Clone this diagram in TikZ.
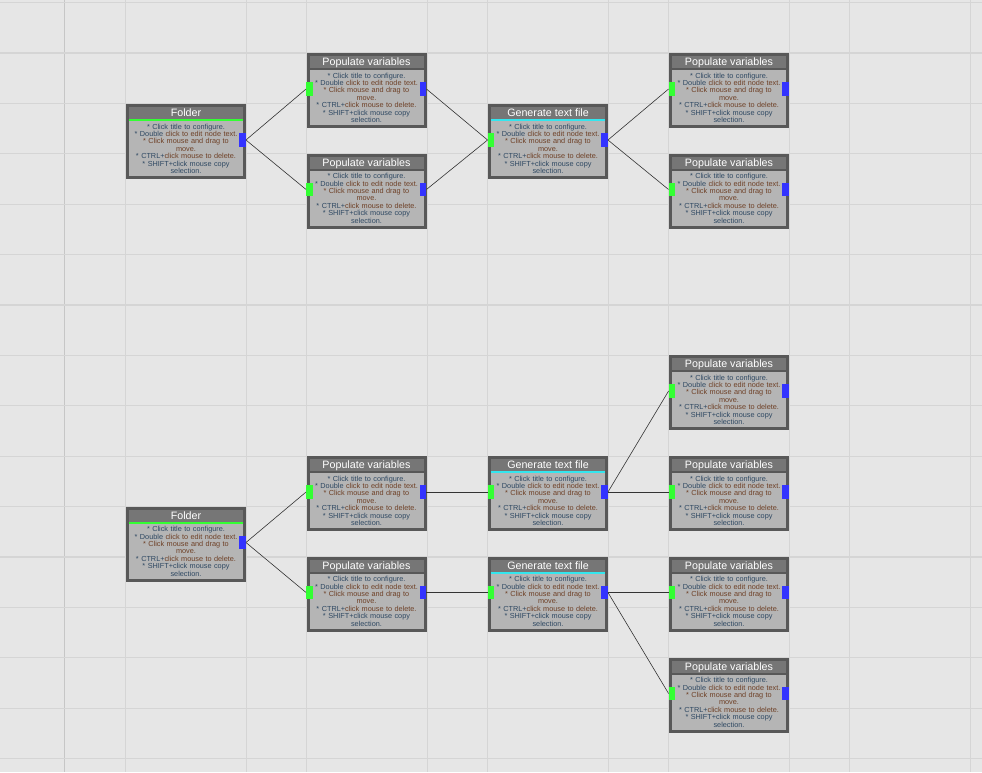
\documentclass[tikz,border=0pt]{standalone}
\usepackage{fontspec}
\setmainfont{Liberation Sans}
\usepackage{tikz}
\usepackage{xcolor}

\definecolor{canvas}{HTML}{E6E6E6}
\definecolor{gridline}{HTML}{D5D5D5}
\definecolor{frame}{HTML}{585858}
\definecolor{titlebg}{HTML}{767676}
\definecolor{bodybg}{HTML}{B5B5B5}
\definecolor{portin}{HTML}{33FF33}
\definecolor{portout}{HTML}{3333FF}
\definecolor{accfolder}{HTML}{33FF33}
\definecolor{accgen}{HTML}{33E6EE}
\definecolor{accpop}{HTML}{585858}
\definecolor{txtA}{HTML}{2E4862}
\definecolor{txtB}{HTML}{6E4026}
\definecolor{wirecol}{HTML}{333333}

% help text shown in every box
\newcommand{\nodetext}{%
  {\color{txtA}* Click title to configure.}\\
  {\color{txtA}* Double }{\color{txtB}click to edit node text.}\\
  {\color{txtB}* Click mouse and drag to}\\
  {\color{txtB}move.}\\
  {\color{txtA}* CTRL+}{\color{txtB}click mouse to delete.}\\
  {\color{txtA}* SHIFT+}{\color{txtA}click mouse copy}\\
  {\color{txtA}selection.}}

% box with title bar, accent line, help text and output port
\newcommand{\flowbox}[5]{%
  \node[boxframe] (#1) at ({#2+1.5},{#3+1.5}) {};
  \fill[titlebg] ({#2+3},{#3+3}) rectangle ({#2+117},{#3+15});
  \fill[#5] ({#2+3},{#3+15}) rectangle ({#2+117},{#3+17});
  \node[boxtitle] (#1-title) at ({#2+60},{#3+12.5}) {#4};
  \node[boxbody] (#1-body) at ({#2+60},{#3+44.8}) {\nodetext};
  \node[outport] (#1-out) at ([xshift=-2pt,yshift=1.5pt]#1.east) {};
}
% input port on the left side of a box
\newcommand{\flowin}[1]{%
  \node[inport] (#1-in) at ([xshift=1.5pt,yshift=1.5pt]#1.west) {};
}

\begin{document}
\begin{tikzpicture}[
        x=1pt, y=-1pt,
        boxframe/.style={draw=frame, fill=bodybg, line width=3pt, rectangle, anchor=north west,
            minimum width=117pt, minimum height=72pt, inner sep=0pt, outer sep=0pt},
        boxtitle/.style={anchor=base, inner sep=0pt, text=white, font=\fontsize{10.7}{12}\selectfont},
        boxbody/.style={inner sep=0pt, align=center, text width=116pt, font=\fontsize{7.3}{7.45}\selectfont},
        inport/.style={fill=portin, minimum width=6.5pt, minimum height=13.5pt, inner sep=0pt},
        outport/.style={fill=portout, minimum width=6.5pt, minimum height=13.5pt, inner sep=0pt},
        wire/.style={draw=wirecol, line width=0.6pt}
    ]
        % Canvas and grid
        \fill[canvas] (0,0) rectangle (982,772);
        \useasboundingbox (0,0) rectangle (982,772);
        \foreach \gx in {125.5,246,306.5,427,487.5,608,668.5,789,849.5,970}
            \draw[gridline, line width=1pt] (\gx,0) -- (\gx,772);
        \draw[gridline!93!black, line width=1.4pt] (64.5,0) -- (64.5,772);
        \foreach \gy in {2.5,52.9,103.3,153.7,204.1,254.5,304.9,355.3,405.7,456.1,506.5,556.9,607.3,657.7,708.1,758.5}
            \draw[gridline, line width=1.2pt] (0,\gy) -- (982,\gy);

        % Upper flow
        \flowbox{fold1}{126}{104}{Folder}{accfolder}
        \flowbox{pop1}{306.5}{53}{Populate variables}{accpop}  \flowin{pop1}
        \flowbox{pop2}{306.5}{153.5}{Populate variables}{accpop} \flowin{pop2}
        \flowbox{gen1}{488}{104}{Generate text file}{accgen}  \flowin{gen1}
        \flowbox{pop3}{669}{53}{Populate variables}{accpop}   \flowin{pop3}
        \flowbox{pop4}{669}{153.5}{Populate variables}{accpop} \flowin{pop4}

        % Lower flow
        \flowbox{fold2}{126}{506.5}{Folder}{accfolder}
        \flowbox{pop5}{306.5}{456}{Populate variables}{accpop}  \flowin{pop5}
        \flowbox{pop6}{306.5}{556.5}{Populate variables}{accpop} \flowin{pop6}
        \flowbox{gen2}{488}{456}{Generate text file}{accgen}    \flowin{gen2}
        \flowbox{gen3}{488}{556.5}{Generate text file}{accgen}  \flowin{gen3}
        \flowbox{pop7}{669}{355}{Populate variables}{accpop}    \flowin{pop7}
        \flowbox{pop8}{669}{456}{Populate variables}{accpop}    \flowin{pop8}
        \flowbox{pop9}{669}{556.5}{Populate variables}{accpop}  \flowin{pop9}
        \flowbox{pop10}{669}{657.5}{Populate variables}{accpop} \flowin{pop10}

        % Links upper
        \draw[wire] (fold1-out.east) -- (pop1-in.west);
        \draw[wire] (fold1-out.east) -- (pop2-in.west);
        \draw[wire] (pop1-out.east) -- (gen1-in.west);
        \draw[wire] (pop2-out.east) -- (gen1-in.west);
        \draw[wire] (gen1-out.east) -- (pop3-in.west);
        \draw[wire] (gen1-out.east) -- (pop4-in.west);

        % Links lower
        \draw[wire] (fold2-out.east) -- (pop5-in.west);
        \draw[wire] (fold2-out.east) -- (pop6-in.west);
        \draw[wire] (pop5-out.east) -- (gen2-in.west);
        \draw[wire] (pop6-out.east) -- (gen3-in.west);
        \draw[wire] (gen2-out.east) -- (pop7-in.west);
        \draw[wire] (gen2-out.east) -- (pop8-in.west);
        \draw[wire] (gen3-out.east) -- (pop9-in.west);
        \draw[wire] (gen3-out.east) -- (pop10-in.west);
    \end{tikzpicture}
\end{document}
